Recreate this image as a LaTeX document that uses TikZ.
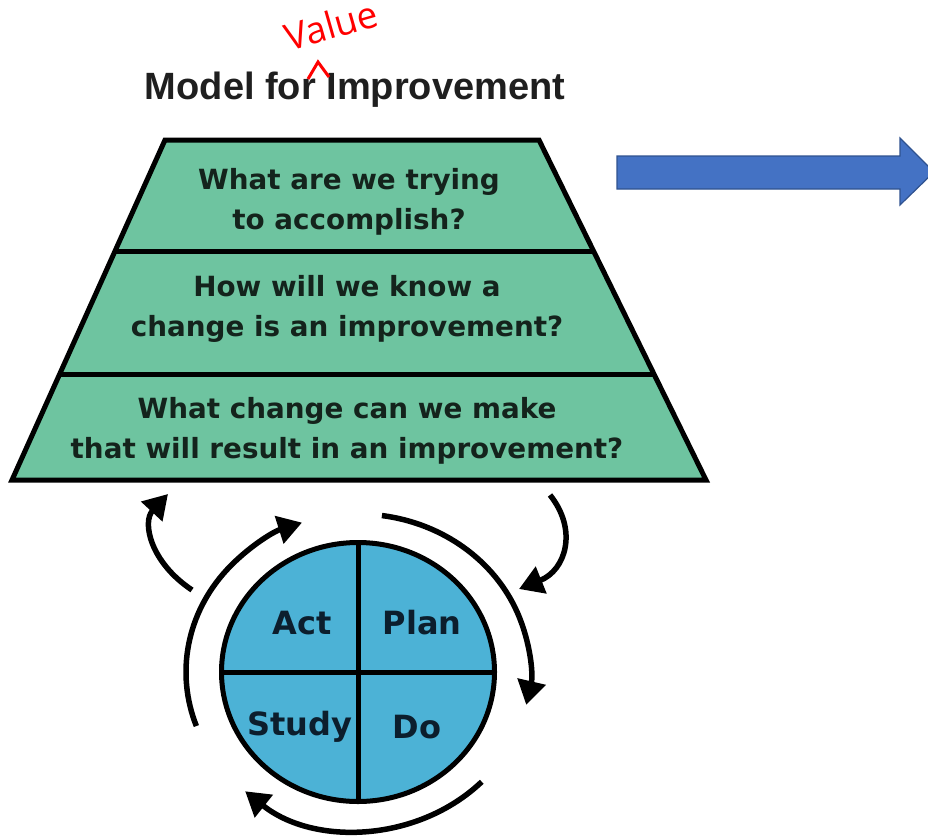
\documentclass[tikz,border=0pt]{standalone}
\usepackage{fontspec}
\setmainfont{DejaVu Sans}
\newfontfamily\titlefont{Liberation Sans}
\newfontfamily\handfont{Open Sans}
\usetikzlibrary{arrows.meta}
\usetikzlibrary{shapes.geometric}
\usetikzlibrary{positioning}
\usetikzlibrary{calc}
\definecolor{tgreen}{RGB}{110,196,160}
\definecolor{cblue}{RGB}{76,178,214}
\definecolor{tdark}{RGB}{20,35,28}
\definecolor{cdark}{RGB}{12,30,45}
\definecolor{ablue}{RGB}{68,114,196}
\definecolor{aedge}{RGB}{47,82,143}
\tikzset{cyc/.style = {line width=5.5pt, -{Triangle[length=24pt, width=28pt]}}}
\tikzset{qtext/.style = {align=center, text=tdark, font=\bfseries\fontsize{27.8}{39.5}\selectfont}}
\tikzset{pdsa/.style = {text=cdark, font=\bfseries\fontsize{32}{38}\selectfont}}

\begin{document}
\begin{tikzpicture}[x=1pt, y=-1pt]
      \useasboundingbox (0,0) rectangle (928,838);

      \node [font=\titlefont\bfseries\fontsize{38}{40}\selectfont, text=black!88] (title) at (355,90) {Model for Improvement};
      \node [red, rotate=16, font=\handfont\fontsize{37}{40}\selectfont] (value) at (331,25) {Value};
      \draw [red, line width=3pt] (308,79) -- (318,62) -- (329,77);

      \coordinate (tl) at (165,140);
      \coordinate (tr) at (539,140);
      \coordinate (br) at (706,480);
      \coordinate (bl) at (12,480);
      \draw [fill=tgreen, line width=5pt] (tl) -- (tr) -- (br) -- (bl) -- cycle;
      \foreach \t in {0.329, 0.691} {
        \draw [line width=5pt] ($(tl)!\t!(bl)$) -- ($(tr)!\t!(br)$);
      }
      \node [qtext] (q1) at (349,202) {What are we trying\\to accomplish?};
      \node [qtext] (q2) at (347,309) {How will we know a\\change is an improvement?};
      \node [qtext] (q3) at (347,431) {What change can we make\\that will result in an improvement?};

      \draw [fill=ablue, draw=aedge, line width=1.2pt]
        (617,156) -- (900,156) -- (900,138) -- (934,172) -- (900,205) -- (900,189) -- (617,189) -- cycle;

      \coordinate (cen) at (358,672);
      \node [ellipse, draw, fill=cblue, line width=5pt, minimum width=273, minimum height=259, inner sep=0] (wheel) at (cen) {};
      \draw [line width=5pt] (wheel.north) -- (wheel.south);
      \draw [line width=5pt] (wheel.west) -- (wheel.east);
      \node [pdsa] (act) at (302,623) {Act};
      \node [pdsa] (plan) at (422,623) {Plan};
      \node [pdsa] (study) at (300,727) {Study};
      \node [pdsa] (do) at (417,727) {Do};

      \foreach \a/\b in {160/251, -82/12, 44/131} {
        \draw [cyc] (cen) ++(\a:172 and 158) arc [start angle=\a, end angle=\b, x radius=172, y radius=158];
      }

      \draw [cyc] (192,590) .. controls (150,562) and (142,522) .. (168,494);
      \draw [cyc] (550,495) .. controls (578,530) and (566,570) .. (519,589);
    \end{tikzpicture}
\end{document}
